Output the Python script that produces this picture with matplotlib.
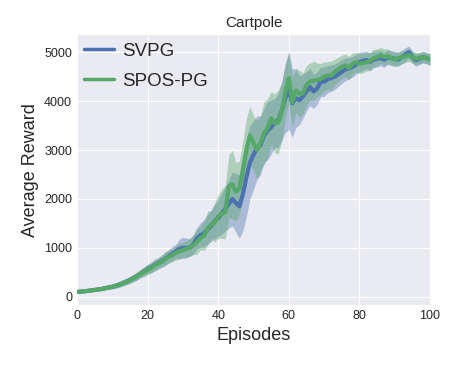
import numpy as np
import matplotlib
matplotlib.use("Agg")
import matplotlib.pyplot as plt

episodes = list(range(101))

# SPOS-PG mean reward per episode
spos_mean = [100, 105, 112, 120, 130, 140, 150, 160, 175, 190, 205,
             225, 250, 280, 310, 340, 380, 420, 470, 510, 560,
             590, 640, 680, 720, 780, 820, 850, 900, 930, 960,
             980, 1010, 1060, 1130, 1200, 1250, 1400, 1480, 1520, 1640,
             1700, 1730, 2250, 2300, 2150, 2220, 2600, 3000, 3300, 3150,
             3000, 3150, 3350, 3450, 3650, 3550, 3570, 3780, 4200, 4470,
             3980, 4220, 4150, 4160, 4330, 4400, 4420, 4430, 4450, 4500,
             4530, 4520, 4600, 4650, 4700, 4730, 4680, 4760, 4800, 4770,
             4780, 4800, 4820, 4880, 4900, 4940, 4900, 4920, 4880, 4850,
             4880, 4900, 4920, 4940, 4900, 4870, 4880, 4900, 4880, 4850]
spos_std = [20, 20, 22, 25, 25, 30, 30, 35, 35, 40, 45,
            50, 55, 60, 60, 65, 70, 80, 80, 90, 100,
            100, 110, 120, 110, 130, 140, 130, 150, 160, 150,
            170, 180, 200, 260, 240, 300, 350, 280, 400, 450,
            500, 550, 650, 700, 600, 550, 600, 650, 600, 550,
            600, 550, 650, 600, 550, 600, 650, 600, 550, 500,
            500, 450, 480, 420, 400, 380, 400, 350, 320, 300,
            280, 300, 260, 250, 240, 230, 240, 220, 200, 210,
            200, 190, 180, 180, 170, 160, 170, 150, 150, 140,
            140, 130, 130, 130, 120, 120, 120, 110, 110, 110]

# SVPG mean reward per episode
svpg_mean = [100, 106, 113, 121, 131, 141, 151, 162, 177, 192, 208,
             228, 252, 282, 313, 345, 385, 425, 475, 515, 565,
             600, 650, 690, 730, 780, 830, 880, 930, 980, 1000,
             1000, 1010, 1080, 1200, 1265, 1300, 1380, 1450, 1540, 1610,
             1700, 1800, 1900, 2000, 1920, 1850, 2100, 2450, 2750, 2900,
             3050, 3100, 3300, 3400, 3470, 3550, 3610, 3800, 4060, 4220,
             3960, 4060, 4020, 4100, 4200, 4290, 4200, 4260, 4390, 4400,
             4450, 4470, 4500, 4550, 4600, 4650, 4670, 4700, 4750, 4800,
             4820, 4840, 4800, 4850, 4870, 4880, 4850, 4900, 4880, 4870,
             4850, 4900, 4950, 5000, 4900, 4840, 4870, 4900, 4880, 4850]
svpg_std = [20, 20, 22, 25, 25, 30, 30, 35, 35, 40, 45,
            50, 55, 60, 65, 70, 75, 80, 85, 95, 100,
            110, 120, 110, 130, 140, 130, 150, 140, 200, 220,
            200, 180, 200, 220, 250, 280, 300, 320, 350, 380,
            420, 450, 500, 550, 600, 650, 750, 800, 750, 700,
            650, 600, 550, 600, 550, 500, 550, 600, 700, 800,
            700, 600, 500, 450, 400, 380, 350, 330, 300, 300,
            280, 270, 260, 250, 240, 230, 220, 210, 200, 200,
            190, 180, 180, 170, 170, 160, 160, 150, 150, 150,
            140, 140, 140, 130, 130, 130, 120, 120, 120, 120]

plt.style.use("seaborn-v0_8-darkgrid")
plt.rcParams["font.family"] = ["Liberation Sans", "DejaVu Sans"]

fig = plt.figure(figsize=(4.58, 3.66), dpi=100)
ax = fig.add_axes([0.168, 0.167, 0.771, 0.737])

x = np.array(episodes)
for mean, std, color, label in [(svpg_mean, svpg_std, "#4C72B0", "SVPG"),
                                (spos_mean, spos_std, "#55A868", "SPOS-PG")]:
    m = np.array(mean)
    s = np.array(std)
    ax.fill_between(x, m - s, m + s, color=color, alpha=0.4, linewidth=0)
    ax.plot(x, m, color=color, linewidth=3, label=label)

ax.set_xlim(0, 100)
ax.set_ylim(-165, 5350)
ax.set_xticks([0, 20, 40, 60, 80, 100])
ax.set_yticks([0, 1000, 2000, 3000, 4000, 5000])
ax.tick_params(labelsize=9)
ax.set_title("Cartpole", fontsize=11)
ax.set_xlabel("Episodes", fontsize=13)
ax.set_ylabel("Average Reward", fontsize=13)
leg = ax.legend(loc="upper left", fontsize=13.5, frameon=False,
                handlelength=1.55, handletextpad=0.45, labelspacing=0.7,
                borderaxespad=0.0)
for line in leg.get_lines():
    line.set_linewidth(2.5)

fig.savefig("out.png", dpi=100)
